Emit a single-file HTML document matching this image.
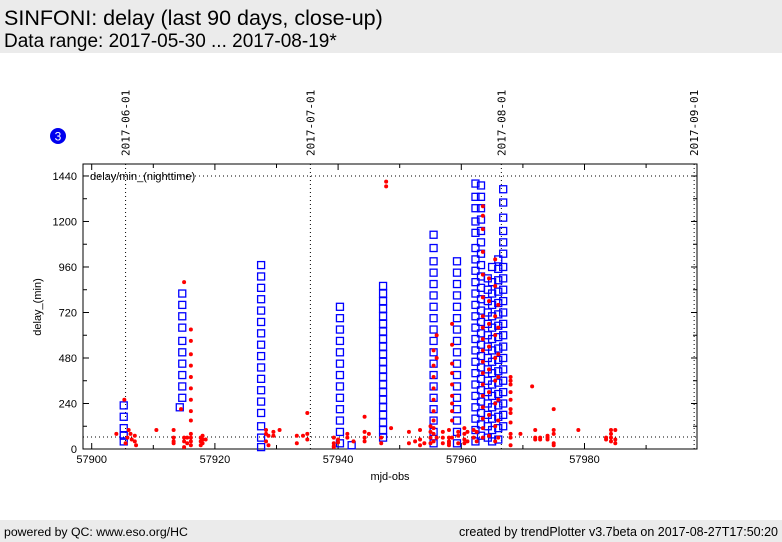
<!DOCTYPE html>
<html><head><meta charset="utf-8">
<style>
body{margin:0;width:782px;height:542px;background:#fff;font-family:"Liberation Sans","DejaVu Sans",sans-serif;overflow:hidden;position:relative}
#hdr{position:absolute;left:0;top:0;width:782px;height:53px;background:#ebebeb}
#t1{position:absolute;left:4px;top:6px;font-size:21.5px;color:#000}
#t2{position:absolute;left:4px;top:31px;font-size:19px;color:#000}
#ftr{position:absolute;left:0;top:520px;width:782px;height:22px;background:#ebebeb;font-size:12.3px}
#fl{position:absolute;left:4px;top:5px}
#fr{position:absolute;right:4px;top:5px;font-size:12.5px}
svg{position:absolute;left:0;top:0}
</style></head><body>
<div id="hdr">
<div id="t1">SINFONI: delay (last 90 days, close-up)</div>
<div id="t2">Data range: 2017-05-30 ... 2017-08-19*</div>
</div>
<svg id="chart" width="782" height="542"></svg>
<div id="ftr">
<span id="fl">powered by QC: www.eso.org/HC</span>
<span id="fr">created by trendPlotter v3.7beta on 2017-08-27T17:50:20</span>
</div>
<script>
const xTicks=[57900,57920,57940,57960,57980];
const yTicks=[0,240,480,720,960,1200,1440];
const dateLabels=["2017-06-01","2017-07-01","2017-08-01","2017-09-01"];
const dateMjd=[57905.5,57935.5,57966.5,57997.8];
const refLineValue=63;
const blueColMjd=[57905.2,57914.3,57914.7,57927.5,57940.3,57942.2,57947.3,57955.5,57959.3,57962.3,57963.2,57964.3,57965.0,57966.0,57966.8];
const blueColVals=[
[40,70,110,170,230],
[220],
[270,330,390,450,510,570,640,700,760,820],
[10,60,120,190,250,310,370,430,490,550,610,670,730,790,850,910,970],
[30,90,150,210,270,330,390,450,510,570,630,690,750],
[20],
[60,100,140,180,220,260,300,340,380,420,460,500,540,580,620,660,700,740,780,820,860],
[30,90,150,210,270,330,390,450,510,570,630,690,750,810,870,930,990,1060,1130],
[30,90,150,210,270,330,390,450,510,570,630,690,750,810,870,930,990],
[40,100,160,220,280,340,400,460,520,580,640,700,760,820,880,940,1000,1060,1140,1200,1270,1330,1400],
[70,130,190,250,310,370,430,490,550,610,670,730,790,850,910,970,1030,1090,1150,1210,1270,1330,1390],
[60,120,180,240,300,360,420,480,540,600,660,720,780,840,900],
[40,100,160,220,280,340,400,460,520,580,640,700,760,820,880,960],
[50,110,170,230,290,350,410,470,530,590,650,710,770,830,890,950,1000],
[120,180,240,300,360,420,480,540,600,660,720,780,840,900,960,1030,1090,1150,1220,1300,1370]
];
const redMjd=[57904,57905.3,57905.5,57905.8,57906,57906.3,57906.5,57907,57907.2,57907,57910.5,57913.3,57913.3,57913.3,57913.3,57914.5,57915,57915,57915,57915,57915.5,57915.5,
57916.1,57916.1,57916.1,57916.1,57916.1,57916.1,57916.1,57916.1,57916.1,57916.1,57916.1,57916.1,57916.1,57917.7,57917.7,57917.7,57918,57918,57918,57918.5,
57928.3,57928.3,57928.3,57928.7,57928.7,57929.5,57929.5,57930.5,57933.3,57933.3,57934.3,57935,57935,57935,
57939.3,57939.3,57939.3,57939.3,57940,57940,57941.5,57941.5,57942.5,57944.3,57944.3,57944.3,57944.3,57945,57947,57947,57947.8,57947.8,57948.6,
57951.5,57951.5,57952.5,57953.3,57953.3,57953.3,57954,57955,57955,57955,57955,57955.5,57955.5,57955.5,57955.5,57955.5,57955.5,57955.5,57955.5,57955.5,57955.5,57956,57956,57956,
57957,57957,57957,57958,57958,57958,57958,57958,57958.5,57958.5,57958.5,57958.5,57958.5,57958.5,57958.5,57958.5,57958.5,57958.5,57959.5,57959.5,57959.5,57960.5,57960.5,57960.5,57960.5,57961,57961,57962,57962,57962.5,57962.5,
57963.5,57963.5,57963.5,57963.5,57963.5,57963.5,57963.5,57963.5,57963.5,57963.5,57963.5,57963.5,57963.5,57963.5,57963.5,57963.5,57963.5,57963.5,
57964.5,57964.5,57964.5,57964.5,57964.5,57964.5,57964.5,57964.5,57965.5,57965.5,57965.5,57965.5,57965.5,57965.5,57965.5,57965.5,57965.5,
57966,57966,57966,57966,57966,57966,57966,57968,57968,57968,57968,57968,57968,57968,57968,57968,57968,57968,57969.6,57971.5,57972,57972,57972,57972.8,57972.8,57974,57974,57974,57975,57975,57975,57975,57975,57979,57983.5,57983.5,57984.3,57984.3,57984.3,57984.3,57985,57985,57985];
const redVals=[80,260,30,60,100,80,50,40,20,70,100,60,40,30,100,210,880,10,60,40,60,30,
630,570,500,440,380,320,260,200,150,80,60,40,20,60,40,20,70,50,30,50,
100,80,40,20,70,90,70,100,70,30,70,190,80,50,
60,30,15,10,50,35,80,60,40,170,90,60,40,80,30,60,1410,1385,110,
30,90,40,100,50,20,30,90,60,30,120,440,520,380,320,260,200,150,110,80,40,600,480,60,
90,60,30,100,60,30,40,20,660,550,450,400,340,280,240,200,150,60,90,70,30,110,80,50,30,90,40,100,60,90,40,
1280,1230,1160,1040,920,800,700,640,580,520,460,400,340,280,220,160,110,60,
900,780,660,540,420,300,180,70,1000,860,700,600,480,360,240,120,40,
760,640,500,380,260,150,60,380,360,340,300,260,210,190,140,80,60,20,80,330,100,60,50,60,50,70,50,60,210,100,80,30,20,100,60,50,100,80,60,40,100,50,30];

const NS="http://www.w3.org/2000/svg";
const svg=document.getElementById('chart');
const L=83,R=697,T=164,B=449;
function xs(m){return 91.7+(m-57900)*6.16;}
function ys(v){return 449-v*0.1896;}
function mk(tag,attrs,parent){const e=document.createElementNS(NS,tag);for(const k in attrs)e.setAttribute(k,attrs[k]);(parent||svg).appendChild(e);return e;}
function txt(s,attrs){const e=mk('text',attrs);e.textContent=s;return e;}

const fr=mk('rect',{x:L,y:T,width:R-L,height:B-T,fill:'none',stroke:'#000','stroke-width':1});


const hl=mk('line',{x1:L,x2:R,y1:ys(refLineValue),y2:ys(refLineValue),stroke:'#000','stroke-dasharray':'1,3'});


const hl2=mk('line',{x1:L,x2:R,y1:ys(1440),y2:ys(1440),stroke:'#000','stroke-dasharray':'1,3'});


dateMjd.forEach((m,i)=>{
 const x=xs(m);
 const l=mk('line',{x1:x,x2:x,y1:T,y2:B,stroke:'#000','stroke-dasharray':'1,3'});
 
 
 const t=txt(dateLabels[i],{x:0,y:0,transform:`translate(${x+4},${156}) rotate(-90)`,'font-size':11,'font-family':'DejaVu Sans Mono,Liberation Mono,monospace'});
 
 
});
for(let m=57900;m<=57997;m+=10){const x=xs(m);const len=(m%20===0)?6:4;
 mk('line',{x1:x,x2:x,y1:B,y2:B-len,stroke:'#000'});mk('line',{x1:x,x2:x,y1:T,y2:T+len,stroke:'#000'});}
xTicks.forEach(m=>{const t=txt(String(m),{x:xs(m),y:B+14,'text-anchor':'middle','font-size':11});
 
 });
for(let v=0;v<=1440;v+=120){const y=ys(v);const len=(v%240===0)?6:4;
 mk('line',{x1:L,x2:L+len,y1:y,y2:y,stroke:'#000'});mk('line',{x1:R,x2:R-len,y1:y,y2:y,stroke:'#000'});}
yTicks.forEach(v=>{const t=txt(String(v),{x:L-6,y:ys(v)+4,'text-anchor':'end','font-size':11});
 
 });
const xt=txt('mjd-obs',{x:390,y:480,'text-anchor':'middle','font-size':11});


const yt=txt('delay_(min)',{x:0,y:0,transform:'translate(41,307) rotate(-90)','text-anchor':'middle','font-size':11});


const lg=txt('delay/min_(nighttime)',{x:90,y:180,'font-size':11});


const bc=mk('circle',{cx:58,cy:136,r:8,fill:'#0000ee'});


const bt=txt('3',{x:58,y:140.5,'text-anchor':'middle','font-size':12,fill:'#fff'});


const gB=mk('g',{});


blueColMjd.forEach((m,i)=>{blueColVals[i].forEach(v=>{
 const r=mk('rect',{x:xs(m)-3.5,y:ys(v)-3.5,width:7,height:7,fill:'none',stroke:'#0000ff','stroke-width':1.3},gB);
 
 
});});
const gR=mk('g',{});


redMjd.forEach((m,i)=>{
 const c=mk('circle',{cx:xs(m),cy:ys(redVals[i]),r:2,fill:'#ff0000'},gR);
 
 
});
</script>
</body></html>
